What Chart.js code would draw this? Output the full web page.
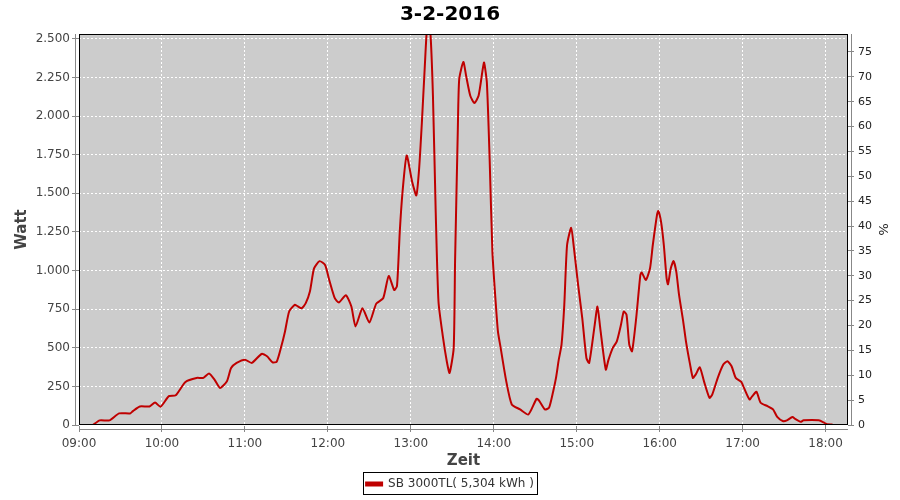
<!DOCTYPE html>
<html>
<head>
<meta charset="utf-8">
<script src="https://cdn.jsdelivr.net/npm/chart.js@4.4.1/dist/chart.umd.min.js"></script>
<style>
  html, body { margin: 0; padding: 0; background: #fff; }
  #wrap { width: 900px; height: 500px; }
</style>
</head>
<body>
<div id="wrap"><canvas id="chart" width="900" height="500"></canvas></div>
<script>
// Messzeitpunkte und Leistung (Watt)
const zeiten = [
  "09:10","09:15","09:22","09:29","09:37","09:39","09:44","09:51","09:55","09:59",
  "10:05","10:10","10:17","10:25","10:30","10:34","10:38","10:42","10:47","10:50",
  "10:54","11:00","11:05","11:12","11:16","11:20","11:23","11:26","11:29","11:32",
  "11:36","11:38","11:41","11:44","11:47","11:50","11:54","11:58","12:01","12:05",
  "12:08","12:13","12:17","12:20","12:25","12:30","12:35","12:40","12:44","12:48",
  "12:50","12:52","12:54","12:57","13:01","13:04","13:06","13:08","13:10","13:12",
  "13:14","13:16","13:18","13:20","13:23","13:26","13:28","13:31","13:32","13:34",
  "13:35","13:38","13:40","13:43","13:46","13:49","13:52","13:53","13:55","13:57",
  "13:59","14:01","14:03","14:05","14:09","14:13","14:19","14:25","14:31","14:33",
  "14:37","14:40","14:43","14:45","14:47","14:49","14:51","14:53","14:56","14:58",
  "15:01","15:04","15:07","15:09","15:13","15:15","15:17","15:21","15:23","15:26",
  "15:29","15:32","15:34","15:36","15:38","15:40","15:43","15:46","15:47","15:50",
  "15:53","15:55","15:58","15:59","16:01","16:03","16:05","16:06","16:08","16:10",
  "16:12","16:14","16:17","16:19","16:22","16:24","16:26","16:29","16:32","16:36",
  "16:38","16:42","16:46","16:49","16:52","16:55","16:59","17:01","17:05","17:07",
  "17:10","17:13","17:18","17:22","17:25","17:29","17:32","17:36","17:38","17:42",
  "17:44","17:55","17:59","18:01","18:05"
];
const watt = [
  0, 30, 30, 75, 75, 90, 120, 120, 146, 118,
  187, 193, 279, 305, 305, 333, 294, 240, 284, 369,
  402, 423, 402, 460, 445, 406, 410, 498, 606, 735,
  778, 770, 756, 789, 864, 1014, 1061, 1036, 939, 821,
  793, 840, 767, 638, 756, 664, 786, 821, 965, 874,
  900, 1251, 1509, 1745, 1573, 1487, 1659, 1960, 2304, 2600,
  2560, 2132, 1380, 800, 584, 413, 337, 498, 1057, 1917,
  2239, 2351, 2261, 2132, 2085, 2132, 2304, 2347, 2218, 1724,
  1122, 842, 606, 498, 284, 133, 101, 68, 170, 155,
  101, 112, 219, 305, 423, 520, 778, 1164, 1277, 1143,
  907, 692, 434, 402, 649, 767, 627, 359, 423, 498,
  542, 649, 735, 714, 520, 477, 692, 971, 988, 939,
  1014, 1164, 1358, 1386, 1315, 1164, 950, 911, 1014, 1061,
  993, 842, 671, 542, 391, 305, 326, 374, 284, 176,
  197, 305, 391, 413, 380, 305, 279, 240, 165, 187,
  215, 144, 122, 101, 52, 26, 30, 52, 40, 21,
  30, 30, 15, 5, 4
];
const serienName = "SB 3000TL( 5,304 kWh )";
const titel = "3-2-2016";

// Achsenteilung
const wattTicks = [0, 250, 500, 750, 1000, 1250, 1500, 1750, 2000, 2250, 2500];
const prozentTicks = [0, 5, 10, 15, 20, 25, 30, 35, 40, 45, 50, 55, 60, 65, 70, 75];
const stundenTicks = [9, 10, 11, 12, 13, 14, 15, 16, 17, 18];

const wattMax = 2532;    // oberer Rand der Watt-Achse
const prozentMax = 78.6; // oberer Rand der %-Achse
const zeitMax = 18.27;

function stunden(hhmm) {
  const [h, m] = hhmm.split(":").map(Number);
  return h + m / 60;
}
function tausender(v) {
  return String(v).replace(/\B(?=(\d{3})+(?!\d))/g, ".");
}
function uhrzeit(v) {
  const h = Math.round(v);
  return (h < 10 ? "0" : "") + h + ":00";
}
const setzeTicks = werte => s => { s.ticks = werte.map(v => ({ value: v })); };

const punkte = zeiten.map((z, i) => ({ x: stunden(z), y: watt[i] }));

const rot = "#bf0000";
const schrift = "'DejaVu Sans', sans-serif";
const tickFont = { family: schrift, size: 12 };

// Hintergrund, Rahmen und Legendenrahmen
const jfreeLook = {
  id: "jfreeLook",
  beforeDraw(chart) {
    const { ctx, chartArea: a } = chart;
    ctx.save();
    ctx.fillStyle = "#cccccc";
    ctx.fillRect(a.left, a.top, a.right - a.left, a.bottom - a.top);
    ctx.restore();
  },
  afterDraw(chart) {
    const { ctx, chartArea: a } = chart;
    ctx.save();
    ctx.strokeStyle = "#000";
    ctx.lineWidth = 1;
    ctx.strokeRect(Math.round(a.left) + 0.5, Math.round(a.top) + 0.5,
      Math.round(a.right - a.left) - 1, Math.round(a.bottom - a.top) - 1);
    // versetzte graue Achsenlinien
    ctx.strokeStyle = "#888";
    ctx.beginPath();
    ctx.moveTo(Math.round(a.left) - 3.5, a.top);
    ctx.lineTo(Math.round(a.left) - 3.5, a.bottom);
    ctx.moveTo(Math.round(a.right) + 3.5, a.top);
    ctx.lineTo(Math.round(a.right) + 3.5, a.bottom);
    ctx.moveTo(a.left, Math.round(a.bottom) + 4.5);
    ctx.lineTo(a.right, Math.round(a.bottom) + 4.5);
    ctx.stroke();
    // Legendenrahmen
    const hb = chart.legend.legendHitBoxes[0];
    if (hb) {
      ctx.strokeStyle = "#000";
      ctx.strokeRect(Math.round(hb.left) - 2.5, Math.round(hb.top) - 5.5,
        Math.round(hb.width) + 6, Math.round(hb.height) + 10);
    }
    ctx.restore();
  }
};

new Chart(document.getElementById("chart"), {
  type: "line",
  data: {
    datasets: [{
      label: serienName,
      data: punkte,
      borderColor: rot,
      backgroundColor: rot,
      borderWidth: 2,
      pointRadius: 0,
      tension: 0.2,
      fill: false,
      yAxisID: "y"
    }]
  },
  options: {
    responsive: false,
    animation: false,
    devicePixelRatio: 1,
    layout: { padding: 0 },
    plugins: {
      title: {
        display: true,
        text: titel,
        color: "#000",
        font: { family: schrift, size: 20, weight: "bold" },
        padding: { top: 3, bottom: 7 }
      },
      legend: {
        position: "bottom",
        labels: {
          color: "#333",
          font: tickFont,
          boxWidth: 16,
          boxHeight: 3,
          padding: 6
        }
      },
      tooltip: { enabled: false }
    },
    scales: {
      x: {
        type: "linear",
        min: 9,
        max: zeitMax,
        afterFit: s => { s.height = 47; },
        afterBuildTicks: setzeTicks(stundenTicks),
        border: { display: false, dash: [2, 2] },
        grid: {
          color: "#ffffff",
          tickColor: "#888",
          tickLength: 7,
          tickBorderDash: []
        },
        ticks: {
          color: "#444",
          font: tickFont,
          padding: 5,
          maxRotation: 0,
          autoSkip: false,
          callback: v => uhrzeit(v)
        },
        title: {
          display: true,
          text: "Zeit",
          color: "#444",
          font: { family: schrift, size: 15, weight: "bold" },
          padding: 2
        }
      },
      y: {
        position: "left",
        min: 0,
        max: wattMax,
        afterFit: s => { s.width = 79; },
        afterBuildTicks: setzeTicks(wattTicks),
        border: { display: false, dash: [2, 2] },
        grid: {
          color: "#ffffff",
          tickColor: "#888",
          tickLength: 7,
          tickBorderDash: []
        },
        ticks: {
          color: "#444",
          font: tickFont,
          padding: 2,
          autoSkip: false,
          callback: v => tausender(v)
        },
        title: {
          display: true,
          text: "Watt",
          color: "#444",
          font: { family: schrift, size: 15, weight: "bold" },
          padding: 13
        }
      },
      y2: {
        position: "right",
        min: 0,
        max: prozentMax,
        afterFit: s => { s.width = 52; },
        afterBuildTicks: setzeTicks(prozentTicks),
        border: { display: false },
        grid: {
          drawOnChartArea: false,
          tickColor: "#888",
          tickLength: 6
        },
        ticks: {
          color: "#222",
          font: { family: schrift, size: 11 },
          padding: 4,
          autoSkip: false
        },
        title: {
          display: true,
          text: "%",
          color: "#222",
          font: { family: schrift, size: 13 },
          padding: 10
        }
      }
    }
  },
  plugins: [jfreeLook]
});
</script>
</body>
</html>
